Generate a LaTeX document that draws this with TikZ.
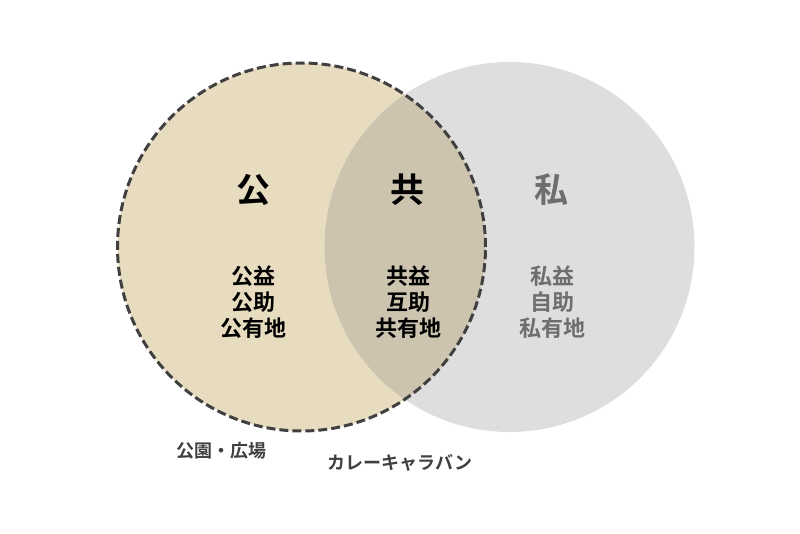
\documentclass[tikz,border=0pt]{standalone}
\usepackage{fontspec}
\setmainfont{Noto Sans CJK JP}[BoldFont={Noto Sans CJK JP Bold}]
\usepackage{tikz}
\usetikzlibrary{positioning}
\definecolor{beige}{RGB}{232,220,192}
\definecolor{priv}{RGB}{128,128,128}
\definecolor{ink}{RGB}{64,64,64}
\definecolor{privtext}{RGB}{110,110,110}

\begin{document}
\begin{tikzpicture}[x=1pt, y=-1pt,
  big/.style={font=\fontsize{34}{36}\selectfont\bfseries},
  sub/.style={font=\fontsize{22}{26}\selectfont\bfseries, align=center},
  note/.style={font=\fontsize{18}{20}\selectfont\bfseries, text=ink}]
  \useasboundingbox (0,0) rectangle (800,534);
  % circles
  \node[circle, fill=beige, minimum size=368pt, inner sep=0pt] at (301.5, 247) (pub) {};
  \node[circle, fill=priv, fill opacity=0.26, minimum size=370pt, inner sep=0pt] at (509.5, 247) (pri) {};
  \node[circle, draw=ink, line width=3pt, dash pattern=on 9pt off 4pt, minimum size=368pt, inner sep=0pt] at (301.5, 247) (pubedge) {};

  % labels
  \node[big] at (253, 190) (ko) {公};
  \node[big] at (407, 190) (kyo) {共};
  \node[big, text=privtext] at (551, 190) (shi) {私};

  \node[sub] at (253, 302) (kolist) {公益\\公助\\公有地};
  \node[sub] at (408, 302) (kyolist) {共益\\互助\\共有地};
  \node[sub, text=privtext] at (552, 302) (shilist) {私益\\自助\\私有地};

  \node[note] at (221, 451) (park) {公園・広場};
  \node[note] at (400, 463) (curry) {カレーキャラバン};
\end{tikzpicture}
\end{document}
